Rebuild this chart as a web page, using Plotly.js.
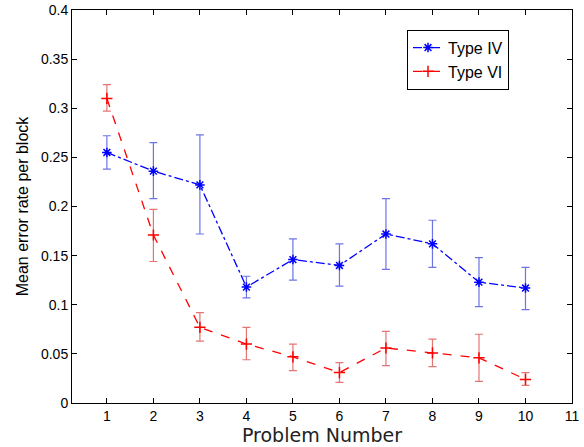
<!DOCTYPE html>
<html>
<head>
<meta charset="utf-8">
<script src="https://cdn.plot.ly/plotly-3.0.1.min.js"></script>
<style>html,body{margin:0;padding:0;background:#fff;}#chart{width:584px;height:447px;}</style>
</head>
<body>
<div id="chart"></div>
<script>
const problems = [1, 2, 3, 4, 5, 6, 7, 8, 9, 10];
const typeIV = [0.255, 0.236, 0.222, 0.118, 0.146, 0.140, 0.172, 0.162, 0.123, 0.117];
const typeIVUpper = [0.272, 0.265, 0.273, 0.129, 0.167, 0.162, 0.208, 0.186, 0.148, 0.138];
const typeIVLower = [0.238, 0.208, 0.172, 0.107, 0.125, 0.119, 0.136, 0.138, 0.098, 0.095];
const typeVI = [0.310, 0.171, 0.077, 0.060, 0.047, 0.031, 0.056, 0.051, 0.046, 0.024];
const typeVIUpper = [0.324, 0.197, 0.092, 0.077, 0.060, 0.041, 0.073, 0.065, 0.070, 0.031];
const typeVILower = [0.297, 0.144, 0.063, 0.044, 0.033, 0.021, 0.038, 0.037, 0.022, 0.018];
const xTicks = [1, 2, 3, 4, 5, 6, 7, 8, 9, 10, 11];
const yTicks = [0, 0.05, 0.1, 0.15, 0.2, 0.25, 0.3, 0.35, 0.4];

const diff = (a, b) => a.map((v, i) => v - b[i]);

const traces = [
  {
    x: problems, y: typeIV, name: 'Type IV', type: 'scatter', mode: 'lines+markers',
    line: {color: '#0000ff', dash: 'dashdot', width: 1.3},
    marker: {symbol: 'asterisk-open', size: 8, color: '#0000ff', line: {color: '#0000ff', width: 1.5}},
    error_y: {type: 'data', symmetric: false, array: diff(typeIVUpper, typeIV), arrayminus: diff(typeIV, typeIVLower),
      color: 'rgba(60,70,220,0.75)', thickness: 1.2, width: 4}
  },
  {
    x: problems, y: typeVI, name: 'Type VI', type: 'scatter', mode: 'lines+markers',
    line: {color: '#ff0000', dash: 'dash', width: 1.3},
    marker: {symbol: 'cross-thin-open', size: 8, color: '#ff0000', line: {color: '#ff0000', width: 1.5}},
    error_y: {type: 'data', symmetric: false, array: diff(typeVIUpper, typeVI), arrayminus: diff(typeVI, typeVILower),
      color: 'rgba(220,70,70,0.75)', thickness: 1.2, width: 4}
  }
];

const layout = {
  width: 584, height: 447,
  margin: {l: 72, r: 12, t: 10, b: 44},
  paper_bgcolor: '#fff', plot_bgcolor: '#fff',
  showlegend: true,
  font: {family: 'Liberation Sans, Arial, sans-serif', color: '#000', size: 14},
  xaxis: {
    range: [0.25, 11], tickvals: xTicks, ticktext: xTicks.map(String),
    ticks: 'inside', ticklen: 5, tickcolor: '#000', tickwidth: 1,
    showline: true, mirror: 'ticks', linecolor: '#000', linewidth: 1,
    showgrid: false, zeroline: false,
    tickfont: {size: 14},
    title: {text: 'Problem Number', font: {family: 'DejaVu Sans, Verdana, sans-serif', size: 19, color: '#222'}, standoff: 2}
  },
  yaxis: {
    range: [0, 0.4], tickvals: yTicks, ticktext: yTicks.map(v => String(+v.toFixed(2))),
    ticks: 'inside', ticklen: 5, tickcolor: '#000', tickwidth: 1,
    showline: true, mirror: 'ticks', linecolor: '#000', linewidth: 1,
    showgrid: false, zeroline: false,
    tickfont: {size: 14},
    title: {text: 'Mean error rate per block', font: {size: 16}, standoff: 8}
  },
  legend: {
    x: 0.67, y: 0.95, xanchor: 'left', yanchor: 'top',
    bordercolor: '#000', borderwidth: 1, bgcolor: '#fff',
    font: {size: 16}, itemwidth: 30
  }
};

Plotly.newPlot('chart', traces, layout, {displayModeBar: false, staticPlot: true});
</script>
</body>
</html>
